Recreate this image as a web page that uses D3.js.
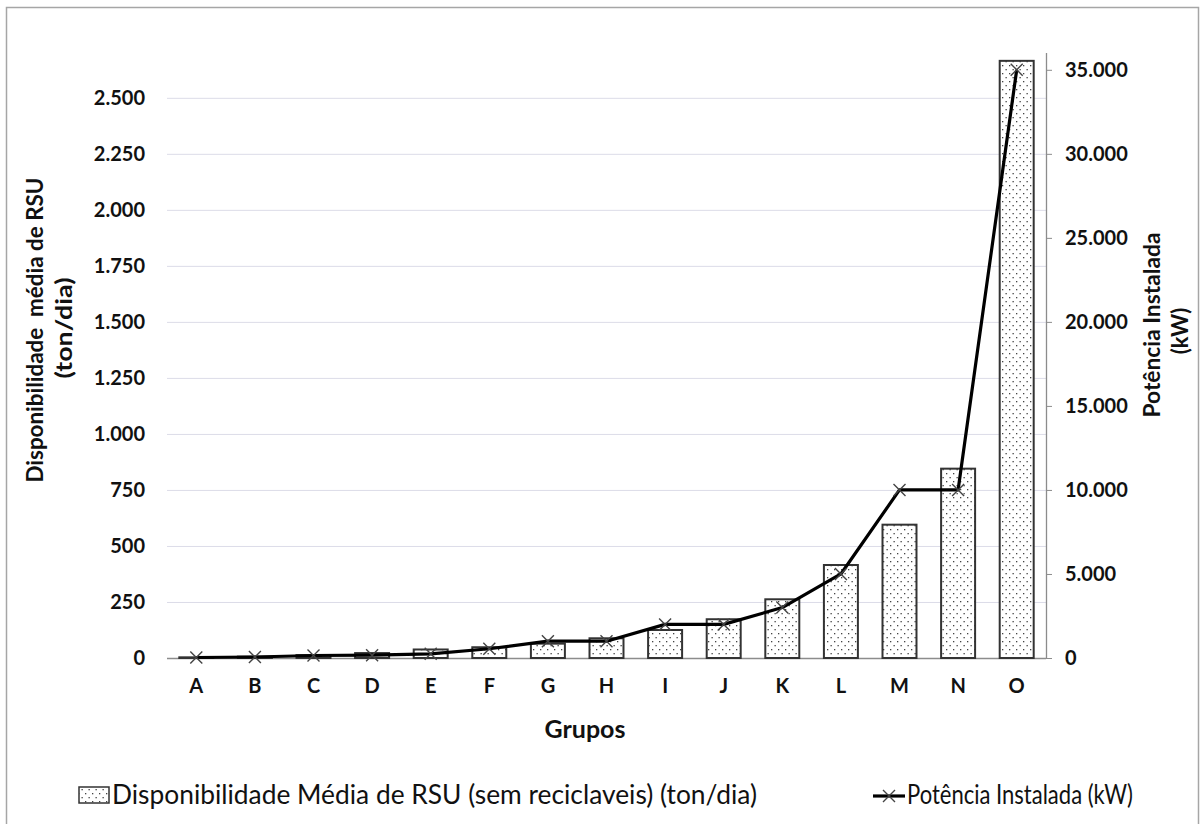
<!DOCTYPE html>
<html>
<head>
<meta charset="utf-8">
<script src="https://cdn.jsdelivr.net/npm/d3@7"></script>
<style>
  html, body { margin: 0; padding: 0; background: #fff; }
  svg { display: block; font-family: Lato, "Open Sans", sans-serif; }
</style>
</head>
<body>
<svg id="chart" width="1200" height="824"></svg>
<script>
// Grupos de municípios
const categories = ["A","B","C","D","E","F","G","H","I","J","K","L","M","N","O"];
// Disponibilidade média de RSU (sem recicláveis), ton/dia
const rsuValues = [3, 6, 13, 22, 38, 48, 64, 88, 125, 173, 262, 415, 595, 845, 2665];
// Potência instalada, kW
const powerValues = [30, 60, 150, 170, 250, 550, 1000, 1000, 2000, 2000, 3000, 5000, 10000, 10000, 35000];
// Rótulos dos eixos
const leftTicks = [0, 250, 500, 750, 1000, 1250, 1500, 1750, 2000, 2250, 2500];
const rightTicks = [0, 5000, 10000, 15000, 20000, 25000, 30000, 35000];

const svg = d3.select("#chart");
const fmt = d => d3.format(",")(d).replace(/,/g, ".");
const ink = "#111";

const plot = { left: 167, right: 1046, top: 53, bottom: 658 };

const x = d3.scaleBand().domain(categories).range([plot.left, plot.right]).paddingInner(0.42).paddingOuter(0.21);
const yL = d3.scaleLinear().domain([0, 2700]).range([plot.bottom, plot.top]);
const yR = d3.scaleLinear().domain([0, 36000]).range([plot.bottom, plot.top]);

// dotted fill for the bars
const defs = svg.append("defs");
const pat = defs.append("pattern").attr("id", "dots").attr("patternUnits", "userSpaceOnUse")
  .attr("width", 7).attr("height", 8);
pat.append("rect").attr("width", 7).attr("height", 8).attr("fill", "#fff");
pat.append("rect").attr("x", 1).attr("y", 1).attr("width", 1.3).attr("height", 1.3).attr("fill", "#444");
pat.append("rect").attr("x", 4.5).attr("y", 5).attr("width", 1.3).attr("height", 1.3).attr("fill", "#444");

// outer frame
svg.append("rect").attr("x", 6.5).attr("y", 7.5).attr("width", 1192).attr("height", 830)
  .attr("fill", "none").attr("stroke", "#a6a6a6").attr("stroke-width", 1.5);

// horizontal gridlines
svg.append("g").selectAll("line").data(leftTicks.slice(1)).join("line")
  .attr("x1", plot.left).attr("x2", plot.right)
  .attr("y1", d => yL(d) + 0.5).attr("y2", d => yL(d) + 0.5)
  .attr("stroke", "#dcdce8").attr("stroke-width", 1);

// left axis labels
const gL = svg.append("g").attr("transform", `translate(${plot.left - 22},0)`)
  .call(d3.axisLeft(yL).tickValues(leftTicks).tickFormat(fmt).tickSize(0).tickPadding(0));
gL.select(".domain").remove();
gL.selectAll("text").attr("font-size", 20).attr("font-weight", "bold").attr("fill", ink)
  .attr("font-family", "Lato, sans-serif");

// right axis
const gR = svg.append("g").attr("transform", `translate(${plot.right},0)`)
  .call(d3.axisRight(yR).tickValues(rightTicks).tickFormat(fmt).tickSize(6).tickPadding(13));
gR.select(".domain").attr("stroke", "#8c8c8c").attr("stroke-width", 1.3)
  .attr("d", `M0.5,${plot.top}V${plot.bottom}`);
gR.selectAll(".tick line").attr("stroke", "#8c8c8c");
gR.selectAll("text").attr("font-size", 20).attr("font-weight", "bold").attr("fill", ink)
  .attr("font-family", "Lato, sans-serif");

// category axis
svg.append("line").attr("x1", plot.left).attr("x2", plot.right)
  .attr("y1", plot.bottom + 0.5).attr("y2", plot.bottom + 0.5)
  .attr("stroke", "#8c8c8c").attr("stroke-width", 1.3);
const gX = svg.append("g").attr("transform", `translate(0,${plot.bottom})`)
  .call(d3.axisBottom(x).tickSize(0).tickPadding(21));
gX.select(".domain").remove();
gX.selectAll("text").attr("font-size", 20).attr("font-weight", "bold").attr("fill", ink)
  .attr("font-family", "Lato, sans-serif");

// bars
svg.append("g").selectAll("rect").data(categories).join("rect")
  .attr("x", d => x(d))
  .attr("width", x.bandwidth())
  .attr("y", (d, i) => yL(rsuValues[i]))
  .attr("height", (d, i) => plot.bottom - yL(rsuValues[i]))
  .attr("fill", "url(#dots)")
  .attr("stroke", "#333").attr("stroke-width", 2);

// power line
const cx = d => x(d) + x.bandwidth() / 2;
svg.append("path")
  .datum(categories)
  .attr("fill", "none").attr("stroke", "#000").attr("stroke-width", 3.2)
  .attr("stroke-linejoin", "round")
  .attr("d", d3.line().x(d => cx(d)).y((d, i) => yR(powerValues[i])));

// x markers
const m = 6;
const markerPath = (px, py) => `M${px - m},${py - m}L${px + m},${py + m}M${px - m},${py + m}L${px + m},${py - m}`;
svg.append("g").selectAll("path").data(categories).join("path")
  .attr("d", (d, i) => markerPath(cx(d), yR(powerValues[i])))
  .attr("stroke", "#444").attr("stroke-width", 1.4).attr("fill", "none");

// axis titles
svg.append("text").attr("x", 585).attr("y", 738).attr("text-anchor", "middle")
  .attr("font-size", 25).attr("font-weight", "bold").attr("fill", ink).text("Grupos");

const leftTitle = svg.append("g").attr("transform", "translate(35,330) rotate(-90)");
leftTitle.append("text").attr("x", 0).attr("y", 8).attr("text-anchor", "middle")
  .attr("font-size", 22).attr("font-weight", "bold").attr("fill", ink)
  .attr("textLength", 305).attr("lengthAdjust", "spacingAndGlyphs")
  .attr("xml:space", "preserve").text("Disponibilidade  média de RSU");
leftTitle.append("text").attr("x", 2).attr("y", 37).attr("text-anchor", "middle")
  .attr("font-size", 22).attr("font-weight", "bold").attr("fill", ink)
  .attr("textLength", 101).attr("lengthAdjust", "spacingAndGlyphs")
  .text("(ton/dia)");

const rightTitle = svg.append("g").attr("transform", "translate(1152,325) rotate(-90)");
rightTitle.append("text").attr("x", 0).attr("y", 8).attr("text-anchor", "middle")
  .attr("font-size", 22).attr("font-weight", "bold").attr("fill", ink)
  .attr("textLength", 185).attr("lengthAdjust", "spacingAndGlyphs")
  .text("Potência Instalada");
rightTitle.append("text").attr("x", -6).attr("y", 36).attr("text-anchor", "middle")
  .attr("font-size", 22).attr("font-weight", "bold").attr("fill", ink)
  .text("(kW)");

// legend
const leg = svg.append("g");
leg.append("rect").attr("x", 79).attr("y", 787).attr("width", 30).attr("height", 16)
  .attr("fill", "url(#dots)").attr("stroke", "#333").attr("stroke-width", 1.5);
leg.append("text").attr("x", 112).attr("y", 804).attr("font-size", 27).attr("fill", ink)
  .attr("textLength", 645).attr("lengthAdjust", "spacingAndGlyphs")
  .text("Disponibilidade Média de RSU (sem reciclaveis) (ton/dia)");
leg.append("line").attr("x1", 873).attr("x2", 905).attr("y1", 796).attr("y2", 796)
  .attr("stroke", "#000").attr("stroke-width", 3.2);
leg.append("path").attr("d", markerPath(889, 796)).attr("stroke", "#444").attr("stroke-width", 1.4);
leg.append("text").attr("x", 907).attr("y", 804).attr("font-size", 27).attr("fill", ink)
  .attr("textLength", 226).attr("lengthAdjust", "spacingAndGlyphs")
  .text("Potência Instalada (kW)");
</script>
</body>
</html>
